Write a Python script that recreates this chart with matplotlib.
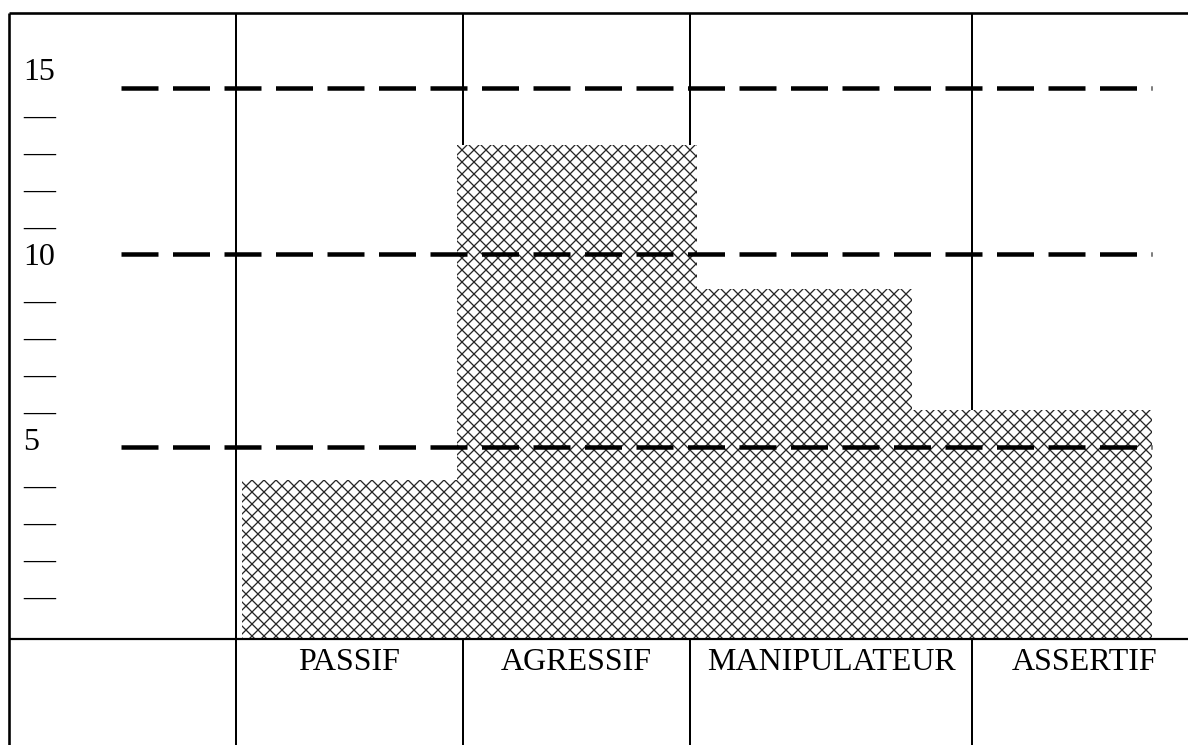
import matplotlib
matplotlib.use("Agg")
import numpy as np
from matplotlib import pyplot as plt
from matplotlib.lines import Line2D

# data
categories = ["PASSIF", "AGRESSIF", "MANIPULATEUR", "ASSERTIF"]
scores = [4.3, 13.35, 9.45, 6.2]
ref_levels = [5.2, 10.4, 14.9]          # dashed reference lines
ref_labels = ["5", "10", "15"]
scale_ticks = list(range(1, 16))

##########################

W, H = 1188, 745
DPI = 72                                 # 1 pt == 1 px

# layout in pixels (from the top left corner)
Y0_PX = 639        # value 0
PX_PER_Y = 37
X0_PX = 242        # left edge of first bar
PX_PER_X = 227.5
bar_edges = [0, 0.945, 2.0, 2.945, 4.0]
col_lines = [236, 463, 690, 972]
col_centres = [349.5, 576.5, 831, 1085]

plt.rcParams['font.family'] = ['Liberation Serif', 'DejaVu Serif']
plt.rcParams['lines.scale_dashes'] = False
plt.rcParams['hatch.linewidth'] = 1.3

fig = plt.figure(figsize=(W / DPI, H / DPI), dpi=DPI)
fig.patch.set_facecolor('white')
ax = fig.add_axes([0, 0, 1, 1])
ax.axis('off')
ax.set_zorder(2)
ax.set_xlim(-X0_PX / PX_PER_X, (W - X0_PX) / PX_PER_X)
ax.set_ylim((Y0_PX - H) / PX_PER_Y, Y0_PX / PX_PER_Y)


def fig_line(x0, y0, x1, y1, lw=2.0, z=1):
    fig.add_artist(Line2D([x0 / W, x1 / W], [1 - y0 / H, 1 - y1 / H],
                          transform=fig.transFigure, color='black',
                          lw=lw, zorder=z, solid_capstyle='butt'))


# table grid, under the axes so the bars hide it
fig_line(9, 13, W, 13, lw=2.6)
fig_line(9, 13, 9, H, lw=2.6)
for x in col_lines:
    fig_line(x, 13, x, H, lw=2.0)

# bars (white background, cross hatch)
lefts = bar_edges[:-1]
widths = np.diff(bar_edges)
ax.bar(lefts, scores, width=widths, align='edge', color='white',
       edgecolor='#262626', linewidth=0, hatch='xx', zorder=3)

# row line drawn over the bar feet
fig_line(9, Y0_PX, W, Y0_PX, lw=2.2, z=4)

# dashed reference lines
for lvl in ref_levels:
    ax.plot([(121 - X0_PX) / PX_PER_X, 4.0], [lvl, lvl], color='black',
            lw=4.5, linestyle=(0, (37, 14.5)), dash_capstyle='butt',
            zorder=5, clip_on=False)

# hand drawn scale on the left
for t in scale_ticks:
    if t % 5 == 0:
        ax.text(23 / W, t + 0.1, ref_labels[t // 5 - 1], fontsize=32,
                ha='left', va='baseline', transform=ax.get_yaxis_transform())
    else:
        ax.text(23 / W, t - 0.1, "\u2014", fontsize=32,
                ha='left', va='baseline', transform=ax.get_yaxis_transform())

# category cells
for cx, name in zip(col_centres, categories):
    fig.text(cx / W, 1 - 670 / H, name, fontsize=32, ha='center', va='baseline')

fig.savefig("out.png", dpi=DPI, facecolor='white')
